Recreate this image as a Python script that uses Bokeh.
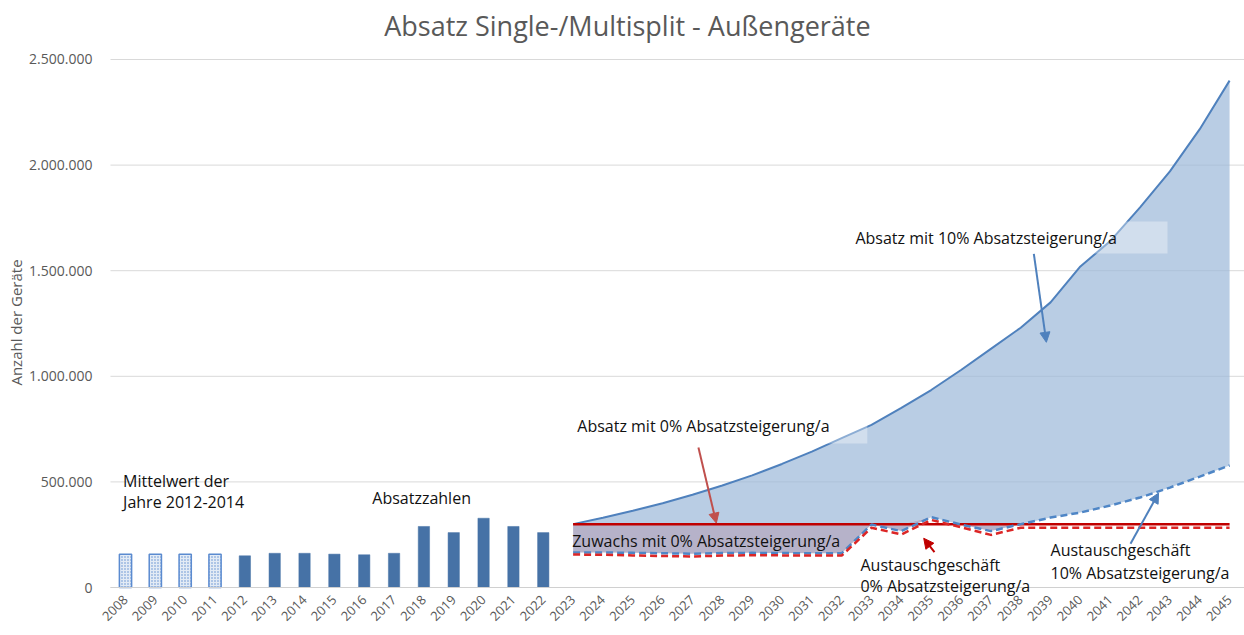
import numpy as np
from bokeh.plotting import figure
from bokeh.models import (Range1d, FixedTicker, CustomJSTickFormatter, Label, Arrow,
                          NormalHead, BoxAnnotation)
from bokeh.embed import file_html
from bokeh.resources import INLINE

# ---------------- data ----------------
mean_years = [2008, 2009, 2010, 2011]
mean_vals = [158000, 158000, 158000, 158000]

sales_years = list(range(2012, 2023))
sales_vals = [150000, 162000, 162000, 158000, 155000, 162000,
              289000, 260000, 328000, 289000, 260000]

future_years = list(range(2023, 2046))
absatz_10 = [300000, 330000, 363000, 399000, 439000, 483000, 531000, 585000,
             643000, 707000, 770000, 850000, 935000, 1030000, 1130000, 1230000,
             1350000, 1520000, 1640000, 1800000, 1970000, 2170000, 2400000]
absatz_0 = [300000] * 23
austausch_10 = [166000, 166000, 164000, 162000, 160000, 163000, 164000, 163000,
                162000, 162000, 298000, 267000, 333000, 298000, 267000, 300000,
                331000, 355000, 388000, 426000, 473000, 525000, 578000]
austausch_0 = [156000, 155000, 152000, 149000, 147000, 151000, 153000, 152000,
               151000, 151000, 283000, 251000, 320000, 285000, 249000, 283000,
               283000, 283000, 283000, 283000, 283000, 283000, 283000]

all_years = list(range(2008, 2046))
y_ticks = [0, 500000, 1000000, 1500000, 2000000, 2500000]

# ---------------- layout constants ----------------
X_LEFT = 2007.497      # left edge of plotting area (half a category before 2008)
X_RIGHT = 2045.50

FONT = "Open Sans"
GRAY = "#595959"

p = figure(width=1244, height=635, output_backend="svg", toolbar_location=None,
           x_range=Range1d(2003.811, X_RIGHT), y_range=Range1d(-227270, 2779330),
           min_border_left=0, min_border_right=0, min_border_top=0,
           min_border_bottom=0)
p.outline_line_color = None
p.background_fill_color = "white"
p.border_fill_color = "white"
p.xgrid.grid_line_color = None
p.ygrid.grid_line_color = None

# gridlines (drawn first, under the areas)
p.segment(x0=[X_LEFT] * len(y_ticks), x1=[X_RIGHT] * len(y_ticks),
          y0=y_ticks, y1=y_ticks, line_color="#D9D9D9", line_width=1)

# y axis
p.yaxis.fixed_location = X_LEFT
p.yaxis.bounds = (0, 2500000)
p.yaxis.ticker = FixedTicker(ticks=y_ticks)
p.yaxis.formatter = CustomJSTickFormatter(
    code='return Math.round(tick).toString().replace(/\\B(?=(\\d{3})+(?!\\d))/g, ".");')
p.yaxis.axis_line_color = None
p.yaxis.major_tick_line_color = None
p.yaxis.minor_tick_line_color = None
p.yaxis.major_label_standoff = 12
p.yaxis.major_label_text_font = FONT
p.yaxis.major_label_text_font_size = "14px"
p.yaxis.major_label_text_color = GRAY

# x axis
p.xaxis.fixed_location = 0
p.xaxis.bounds = (X_LEFT, X_RIGHT)
p.xaxis.ticker = FixedTicker(ticks=all_years)
p.xaxis.axis_line_color = "#D0D0D0"
p.xaxis.major_tick_line_color = None
p.xaxis.minor_tick_line_color = None
p.xaxis.major_label_orientation = np.pi / 4
p.xaxis.major_label_standoff = 4
p.xaxis.major_label_text_font = FONT
p.xaxis.major_label_text_font_size = "13px"
p.xaxis.major_label_text_color = GRAY

# ---------------- areas ----------------
fy = np.array(future_years)
a10 = np.array(absatz_10)
r10 = np.array(austausch_10)
a0 = np.array(absatz_0)
top0 = np.maximum(r10, a0)
p.varea(x=fy, y1=top0, y2=a10, fill_color="#9BB8D8", fill_alpha=0.7)
p.varea(x=fy, y1=r10, y2=top0, fill_color="#9791B2", fill_alpha=0.7)

# ---------------- bars ----------------
p.vbar(x=mean_years, top=mean_vals, width=0.41, fill_color="#E3EBF5",
       line_color="#5B8BD0", line_width=1.5, hatch_pattern="dot",
       hatch_color="#5B8BD0", hatch_scale=3, hatch_weight=1)
p.vbar(x=sales_years, top=sales_vals, width=0.38, fill_color="#4672A6",
       line_color="#4672A6", line_width=0.5)

# ---------------- lines ----------------
p.line(fy, a10, line_color="#4F81BD", line_width=2)
p.line(fy, a0, line_color="#C00000", line_width=2.5)
p.line(fy, r10, line_color="#4F86C6", line_width=2.5, line_dash="7 4")
p.line(fy, austausch_0, line_color="#DC2626", line_width=2.5, line_dash="7 4")

# ---------------- annotation boxes ----------------
p.add_layout(BoxAnnotation(left=2032.3, right=2042.92, bottom=1581000, top=1733000,
                           fill_color="white", fill_alpha=0.35, line_color=None))
p.add_layout(BoxAnnotation(left=2023.0, right=2032.86, bottom=682000, top=838000,
                           fill_color="white", fill_alpha=0.35, line_color=None))

# ---------------- texts ----------------
def lab(x, y, t, size="16px", color="#111111", align="left"):
    p.add_layout(Label(x=x, y=y, text=t, text_font=FONT, text_font_size=size,
                       text_color=color, text_align=align,
                       text_baseline="alphabetic"))

lab(2024.82, 2661000, "Absatz Single-/Multisplit - Außengeräte", size="27px",
    color=GRAY, align="center")

# y axis title
p.add_layout(Label(x=2004.33, y=1254700, text="Anzahl der Geräte", angle=np.pi / 2,
                   text_font=FONT, text_font_size="15px", text_color=GRAY,
                   text_align="center", text_baseline="middle"))

lab(2007.92, 506600, "Mittelwert der")
lab(2007.92, 406900, "Jahre 2012-2014")
lab(2016.27, 425900, "Absatzzahlen")
lab(2023.14, 765600, "Absatz mit 0% Absatzsteigerung/a")
lab(2032.46, 1656900, "Absatz mit 10% Absatzsteigerung/a")
lab(2022.97, 220900, "Zuwachs mit 0% Absatzsteigerung/a")
lab(2032.63, 108900, "Austauschgeschäft")
lab(2032.63, 4900, "0% Absatzsteigerung/a")
lab(2039.0, 179900, "Austauschgeschäft")
lab(2039.0, 70900, "10% Absatzsteigerung/a")

# ---------------- arrows ----------------
def arr(x0, y0, x1, y1, c):
    p.add_layout(Arrow(end=NormalHead(size=10, fill_color=c, line_color=c),
                       x_start=x0, y_start=y0, x_end=x1, y_end=y1,
                       line_color=c, line_width=2))

arr(2027.20, 663000, 2027.80, 305000, "#C0504D")
arr(2038.44, 1580000, 2038.86, 1161000, "#4F81BD")
arr(2035.11, 167000, 2034.75, 233000, "#C00000")
arr(2041.68, 207000, 2042.62, 447000, "#4F81BD")

open("out.html", "w").write(file_html(p, INLINE))
